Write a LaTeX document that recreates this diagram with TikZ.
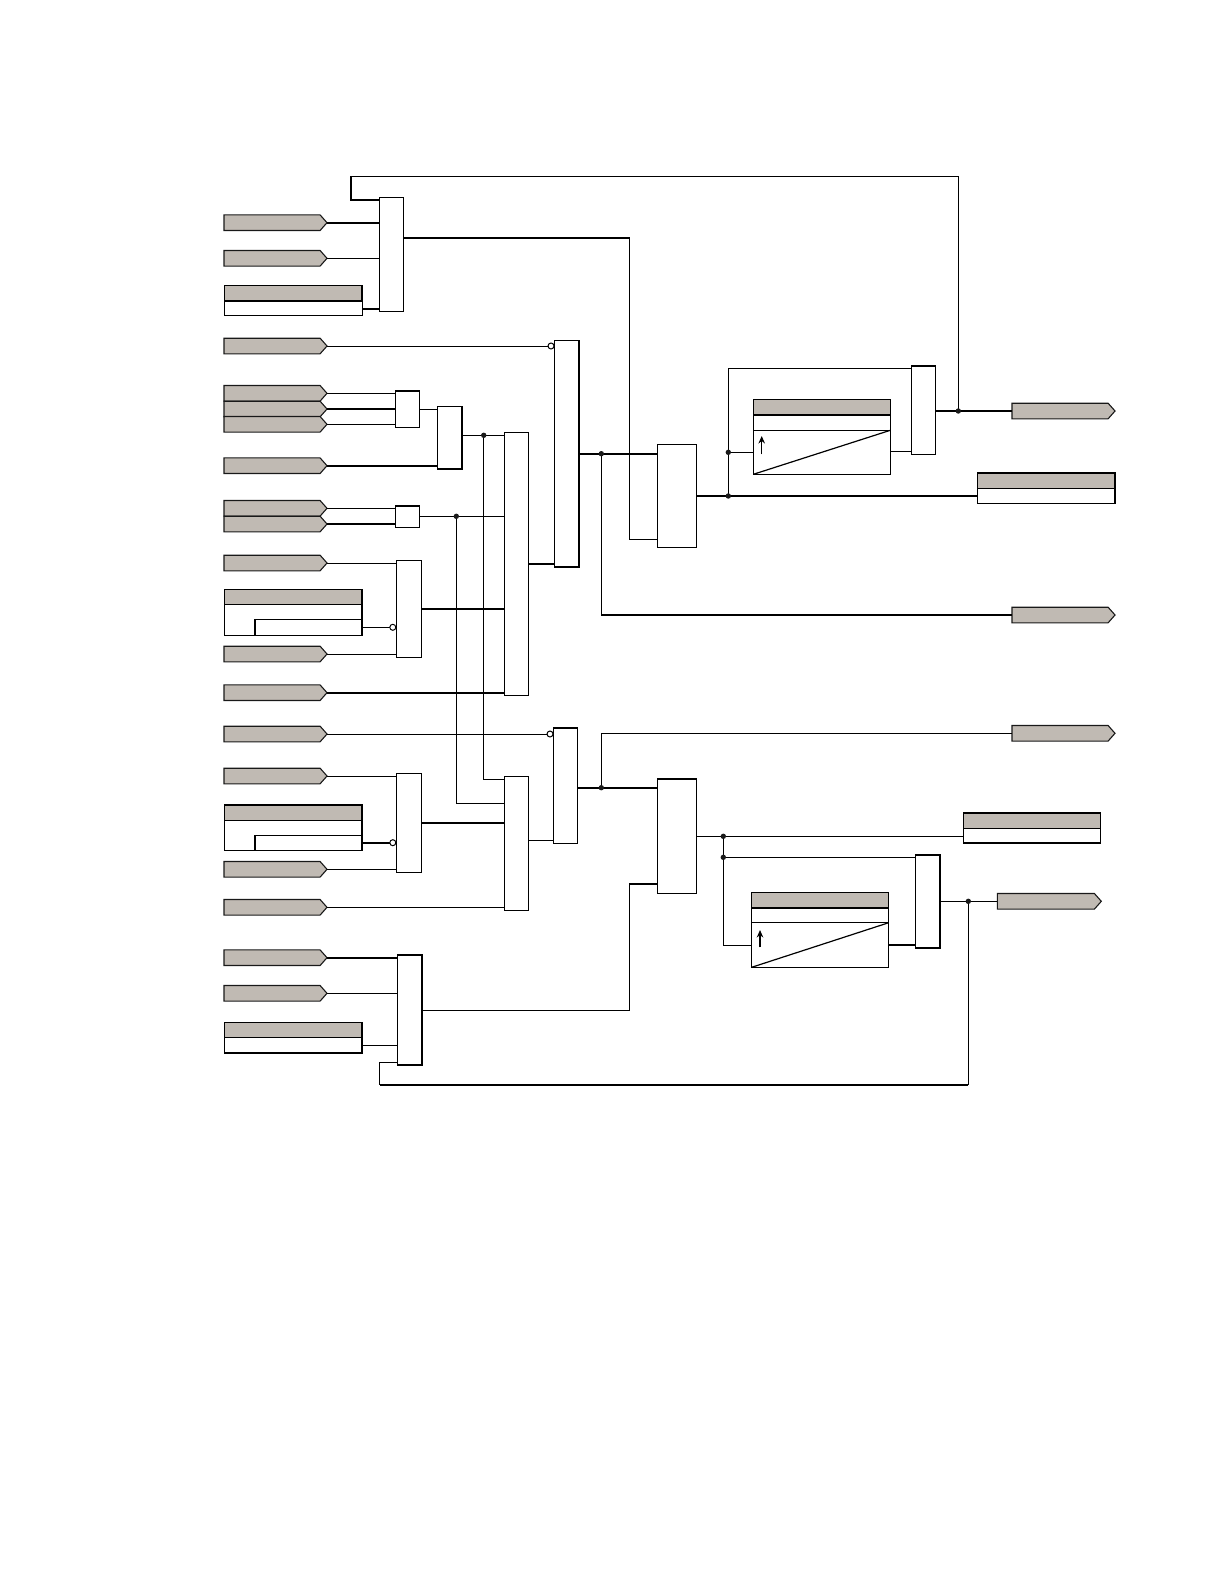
\documentclass[tikz,border=0pt]{standalone}
\usepackage{xcolor}
\usepackage{tikz}
\usetikzlibrary{arrows.meta, positioning, shapes.symbols}
\definecolor{tagfill}{RGB}{192,186,179}

\begin{document}
\begin{tikzpicture}[>={Stealth[length=7.5pt,width=6.5pt]}, x=1pt, y=-1pt, line width=1pt,
    heavy/.style={line width=1.8pt},
    gate/.style={draw, fill=white, anchor=north west, inner sep=0pt, outer sep=0pt},
    tag/.style={draw=black!90, line width=1.1pt, fill=tagfill, signal, signal to=east, signal pointer angle=97, anchor=west,
      minimum width=103pt, minimum height=15.6pt, inner sep=0pt, outer sep=0pt},
    head/.style={gate, fill=tagfill, minimum height=15pt},
    rowbox/.style={gate, anchor=north, minimum height=15pt},
    dot/.style={circle, fill=black!90, minimum size=5.4pt, inner sep=0pt, outer sep=0pt},
    inv/.style={draw, circle, fill=white, minimum size=6pt, inner sep=0pt, outer sep=0pt}]
  \useasboundingbox (0,0) rectangle (1224,1584);

  % input tags, left column
  \node[tag] (in1) at (224,222.7) {};
  \node[tag] (in2) at (224,258.3) {};
  \node[tag] (in3) at (224,346) {};
  \node[tag] (in4) at (224,393.3) {};
  \node[tag] (in5) at (224,409) {};
  \node[tag] (in6) at (224,424.3) {};
  \node[tag] (in7) at (224,465.7) {};
  \node[tag] (in8) at (224,508.3) {};
  \node[tag] (in9) at (224,524) {};
  \node[tag] (in10) at (224,563) {};
  \node[tag] (in11) at (224,654) {};
  \node[tag] (in12) at (224,692.7) {};
  \node[tag] (in13) at (224,734) {};
  \node[tag] (in14) at (224,776) {};
  \node[tag] (in15) at (224,869.3) {};
  \node[tag] (in16) at (224,907.3) {};
  \node[tag] (in17) at (224,957.7) {};
  \node[tag] (in18) at (224,993.3) {};

  % setting boxes, left column
  \node[head, minimum width=138pt] (s1) at (224,285.7) {};
  \node[rowbox, minimum width=138pt, below=0pt of s1] (s1b) {};
  \draw[heavy] (s1.south west) -- (s1.south east);
  \draw[heavy] (s1.north east) -- (s1.south east);

  \node[head, minimum width=138pt] (s2) at (224,589.7) {};
  \node[rowbox, minimum width=138pt, minimum height=30.7pt, below=0pt of s2] (s2b) {};
  \coordinate (n2) at (254.7,619.3);
  \draw (n2) -- (n2 -| s2b.east);
  \draw[heavy] (n2) -- (n2 |- s2b.south);
  \draw[heavy] (s2b.south west) -- (s2b.south east) -- (s2.north east);

  \node[head, minimum width=138pt] (s3) at (224,805) {};
  \node[rowbox, minimum width=138pt, minimum height=30.3pt, below=0pt of s3] (s3b) {};
  \coordinate (n3) at (254.7,835.3);
  \draw (n3) -- (n3 -| s3b.east);
  \draw[heavy] (n3) -- (n3 |- s3b.south);
  \draw[heavy] (s3.north west) -- (s3.north east) -- (s3b.south east);

  \node[head, minimum width=138pt] (s4) at (224,1022.7) {};
  \node[rowbox, minimum width=138pt, below=0pt of s4] (s4b) {};
  \draw[heavy] (s4b.south west) -- (s4b.south east) -- (s4.north east);

  % gates
  \node[gate, minimum width=24.4pt, minimum height=114pt] (g1) at (379.3,197.3) {};
  \node[gate, minimum width=24.6pt, minimum height=226.4pt] (g2) at (554.3,340.3) {};
  \node[gate, minimum width=24.4pt, minimum height=36.6pt] (g3) at (395.3,390.7) {};
  \node[gate, minimum width=24.6pt, minimum height=62.7pt] (g4) at (437.3,406.3) {};
  \node[gate, minimum width=24pt, minimum height=263pt] (g5) at (504.3,432.3) {};
  \node[gate, minimum width=24.4pt, minimum height=22pt] (g6) at (395.3,505.7) {};
  \node[gate, minimum width=25pt, minimum height=97pt] (g7) at (396.3,560.3) {};
  \node[gate, minimum width=25pt, minimum height=99pt] (g8) at (396.3,773.3) {};
  \node[gate, minimum width=24pt, minimum height=133.6pt] (g9) at (504.3,776.7) {};
  \node[gate, minimum width=24pt, minimum height=115.6pt] (g10) at (553.3,727.7) {};
  \node[gate, minimum width=24.7pt, minimum height=110.6pt] (g11) at (397.3,954.7) {};
  \node[gate, minimum width=39.4pt, minimum height=103pt] (g12) at (657.3,444.3) {};
  \node[gate, minimum width=39.4pt, minimum height=114.6pt] (g13) at (657.3,778.7) {};
  \node[gate, minimum width=24pt, minimum height=88.6pt] (g14) at (911.3,365.7) {};
  \node[gate, minimum width=24.3pt, minimum height=93.3pt] (g15) at (915.7,854.7) {};
  \draw[heavy] (g2.north east) -- (g2.south east) -- (g2.south west);
  \draw[heavy] (g3.north west) -- (g3.north east);
  \draw[heavy] (g4.north east) -- (g4.south east) -- (g4.south west);
  \draw[heavy] (g6.north west) -- (g6.north east);
  \draw[heavy] (g10.north west) -- (g10.north east);
  \draw[heavy] (g11.north west) -- (g11.north east) -- (g11.south east) -- (g11.south west);
  \draw[heavy] (g13.north west) -- (g13.north east);
  \draw[heavy] (g14.north west) -- (g14.north east);
  \draw[heavy] (g15.north west) -- (g15.north east) -- (g15.south east) -- (g15.south west);

  % timers
  \node[head, minimum width=137pt] (t1) at (753.3,399.7) {};
  \node[rowbox, minimum width=137pt, minimum height=15.6pt, below=0pt of t1] (t1m) {};
  \node[rowbox, minimum width=137pt, minimum height=44pt, below=0pt of t1m] (t1b) {};
  \draw[heavy] (t1.south west) -- (t1.south east);
  \draw[line width=1.2pt] (t1b.south west) -- (t1b.north east);
  \coordinate (t1p) at (761.7,454.3);
  \coordinate (t1q) at (761.7,436);
  \draw[->, line width=1.2pt] (t1p) -- (t1q);

  \node[head, minimum width=137.4pt] (t2) at (751.3,892.7) {};
  \node[rowbox, minimum width=137.4pt, below=0pt of t2] (t2m) {};
  \node[rowbox, minimum width=137.4pt, minimum height=44.7pt, below=0pt of t2m] (t2b) {};
  \draw[heavy] (t2.south west) -- (t2.south east);
  \draw[line width=1.2pt] (t2b.south west) -- (t2b.north east);
  \coordinate (t2p) at (760,947.3);
  \coordinate (t2q) at (760,930);
  \draw[->, line width=1.2pt] (t2p) -- (t2q);

  % output tags and boxes, right side
  \node[tag] (o1) at (1012,411) {};
  \node[tag] (o2) at (1012,615) {};
  \node[tag] (o3) at (1012,733.3) {};
  \node[tag, minimum width=104pt] (o4) at (997.3,901.3) {};

  \node[head, minimum width=138pt] (r1) at (977.3,473) {};
  \node[rowbox, minimum width=138pt, below=0pt of r1] (r1b) {};
  \draw[heavy] (r1.north west) -- (r1.north east) -- (r1b.south east);

  \node[head, minimum width=137.4pt] (r2) at (963.3,813) {};
  \node[rowbox, minimum width=137.4pt, below=0pt of r2] (r2b) {};
  \draw[heavy] (r2.north west) -- (r2.north east);
  \draw[heavy] (r2b.south west) -- (r2b.south east);

  % bends of the wires
  \coordinate (c1) at (351,199.7);
  \coordinate (c2) at (351,176.3);
  \coordinate (c3) at (629.5,237.7);
  \coordinate (c4) at (629.5,539.3);
  \coordinate (c5) at (483.7,779.3);
  \coordinate (c6) at (456.3,803.3);
  \coordinate (c7) at (601.3,615);
  \coordinate (c8) at (601.3,733.3);
  \coordinate (c9) at (629.3,1010.3);
  \coordinate (c10) at (629.3,884);
  \coordinate (c11) at (379.7,1062.3);
  \coordinate (c12) at (379.7,1085);
  \coordinate (c13) at (968.3,1085);
  \coordinate (c14) at (728.3,368.3);
  \coordinate (c15) at (723.3,945.3);
  \coordinate (w1) at (0,309);
  \coordinate (w2) at (0,409.3);
  \coordinate (w3) at (0,563.7);
  \coordinate (w4) at (0,609);
  \coordinate (w5) at (0,823);
  \coordinate (w6) at (0,840.3);
  \coordinate (w7) at (0,1045.3);
  \coordinate (w8) at (0,451.3);

  % junctions
  \coordinate (j1) at (483.7,435.3);
  \coordinate (j2) at (456.3,516.3);
  \coordinate (j3) at (601.3,453.7);
  \coordinate (j4) at (601.3,787.7);
  \coordinate (j5) at (728.3,496);
  \coordinate (j6) at (728.3,452.3);
  \coordinate (j7) at (958.3,411);
  \coordinate (j8) at (723.3,836.3);
  \coordinate (j9) at (723.3,857.3);
  \coordinate (j10) at (968.3,901.3);

  % inverting inputs
  \coordinate (v2) at (392.8,627.3);
  \coordinate (v4) at (392.8,842.7);
  \coordinate (v1) at (551,346);
  \coordinate (v3) at (550,734);

  % wires to the first gate and feedback
  \draw[heavy] (c2) -- (c1) -- (c1 -| g1.west);
  \draw (c2) -- (c2 -| j7) -- (j7);
  \draw[heavy] (in1.east) -- (in1.east -| g1.west);
  \draw (in2.east) -- (in2.east -| g1.west);
  \draw[heavy] (s1b.east |- w1) -- (g1.west |- w1);
  \draw[heavy] (g1.east |- c3) -- (c3);
  \draw (c3) -- (c4) -- (g12.west |- c4);

  % upper branch
  \draw (in3.east) -- (v1);
  \draw (in4.east) -- (in4.east -| g3.west);
  \draw[heavy] (in5.east) -- (in5.east -| g3.west);
  \draw (in6.east) -- (in6.east -| g3.west);
  \draw (g3.east |- w2) -- (g4.west |- w2);
  \draw[heavy] (in7.east) -- (in7.east -| g4.west);
  \draw (g4.east |- j1) -- (j1) -- (g5.west |- j1);
  \draw (in8.east) -- (in8.east -| g6.west);
  \draw[heavy] (in9.east) -- (in9.east -| g6.west);
  \draw (g6.east |- j2) -- (j2) -- (g5.west |- j2);
  \draw (in10.east) -- (in10.east -| g7.west);
  \draw (s2b.east |- v2) -- (v2);
  \draw (in11.east) -- (in11.east -| g7.west);
  \draw[heavy] (g7.east |- w4) -- (g5.west |- w4);
  \draw[heavy] (in12.east) -- (in12.east -| g5.west);
  \draw[heavy] (g5.east |- w3) -- (g2.west |- w3);
  \draw[heavy] (g2.east |- j3) -- (j3) -- (g12.west |- j3);
  \draw (j3) -- (c7);
  \draw[heavy] (c7) -- (o2.west);

  % lower branch
  \draw (in13.east) -- (v3);
  \draw (j1) -- (c5) -- (g9.west |- c5);
  \draw (j2) -- (c6) -- (g9.west |- c6);
  \draw (in14.east) -- (in14.east -| g8.west);
  \draw[heavy] (s3b.east |- v4) -- (v4);
  \draw (in15.east) -- (in15.east -| g8.west);
  \draw[heavy] (g8.east |- w5) -- (g9.west |- w5);
  \draw (in16.east) -- (in16.east -| g9.west);
  \draw (g9.east |- w6) -- (g10.west |- w6);
  \draw[heavy] (g10.east |- j4) -- (j4) -- (g13.west |- j4);
  \draw (j4) -- (c8) -- (o3.west);

  \draw[heavy] (in17.east) -- (in17.east -| g11.west);
  \draw (in18.east) -- (in18.east -| g11.west);
  \draw (s4b.east |- w7) -- (g11.west |- w7);
  \draw (g11.east |- c9) -- (c9) -- (c10);
  \draw[heavy] (c10) -- (g13.west |- c10);
  \draw (g11.west |- c11) -- (c11) -- (c12);
  \draw[heavy] (c12) -- (c13);
  \draw (c13) -- (j10);

  % upper right
  \draw[heavy] (g12.east |- j5) -- (j5) -- (r1b.west |- j5);
  \draw (j5) -- (j6) -- (c14) -- (g14.west |- c14);
  \draw (j6) -- (j6 -| t1b.west);
  \draw (t1b.east |- w8) -- (g14.west |- w8);
  \draw[heavy] (g14.east |- j7) -- (j7) -- (o1.west);

  % lower right
  \draw (g13.east |- j8) -- (j8) -- (r2b.west |- j8);
  \draw (j8) -- (j9) -- (g15.west |- j9);
  \draw (j9) -- (c15) -- (t2b.west |- c15);
  \draw[heavy] (t2b.east |- c15) -- (g15.west |- c15);
  \draw (g15.east |- j10) -- (j10) -- (o4.west);

  % dots on top of the wires
  \node[dot] (d1) at (j1) {};
  \node[dot] (d2) at (j2) {};
  \node[dot] (d3) at (j3) {};
  \node[dot] (d4) at (j4) {};
  \node[dot] (d5) at (j5) {};
  \node[dot] (d6) at (j6) {};
  \node[dot] (d7) at (j7) {};
  \node[dot] (d8) at (j8) {};
  \node[dot] (d9) at (j9) {};
  \node[dot] (d10) at (j10) {};
  \node[inv] (i1) at (v1) {};
  \node[inv] (i2) at (v2) {};
  \node[inv] (i3) at (v3) {};
  \node[inv] (i4) at (v4) {};
\end{tikzpicture}
\end{document}
